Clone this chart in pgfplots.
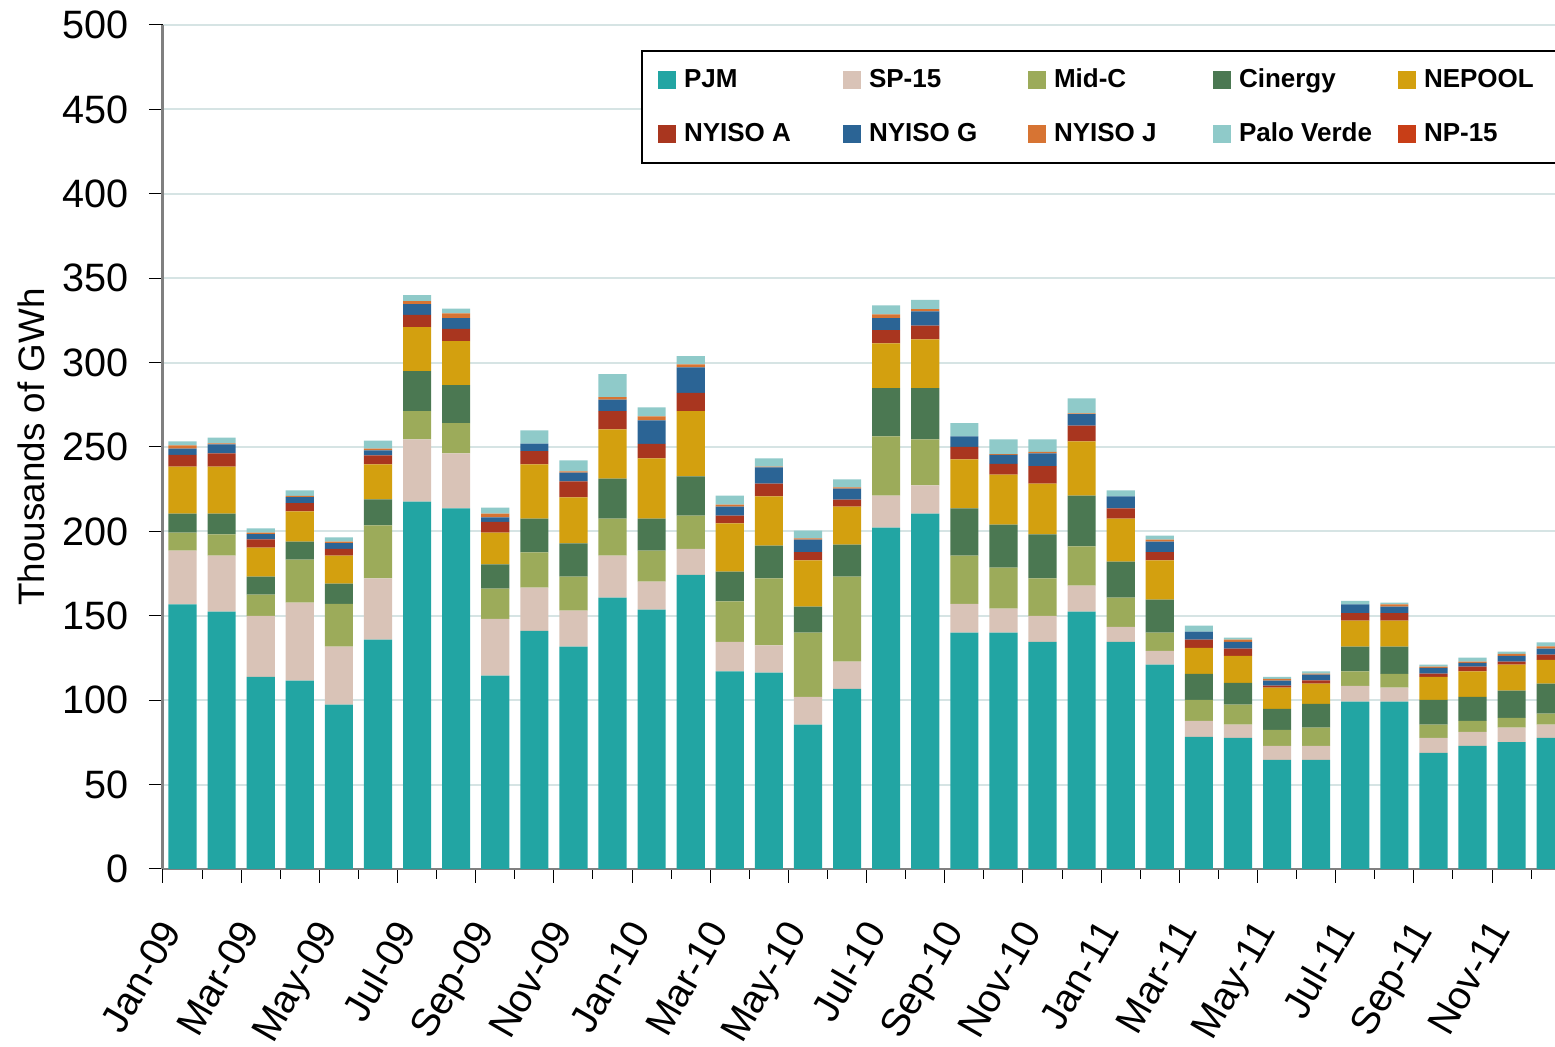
\documentclass[border=0pt]{standalone}
\usepackage{fontspec}
\setmainfont{Liberation Sans}
\usepackage{pgfplots}
\usepackage{pgfplotstable}
\pgfplotsset{compat=1.18}
\definecolor{cPJM}{RGB}{34,165,163}
\definecolor{cSP}{RGB}{217,195,183}
\definecolor{cMidC}{RGB}{156,171,90}
\definecolor{cCin}{RGB}{75,120,82}
\definecolor{cNE}{RGB}{211,160,15}
\definecolor{cNYA}{RGB}{169,54,31}
\definecolor{cNYG}{RGB}{43,100,149}
\definecolor{cNYJ}{RGB}{215,116,51}
\definecolor{cPV}{RGB}{143,202,201}
\definecolor{cNP}{RGB}{200,62,23}
\definecolor{gridc}{RGB}{214,228,228}
\pgfplotstableread{
x PJM SP MidC Cin NE NYA NYG NYJ PV NP
0 156.7 31.9 10.7 11.2 27.9 6.9 3.8 1.8 2.4 0
1 152.5 33.2 12.5 12.3 27.9 7.8 5.4 0.6 3.4 0
2 113.8 36.2 12.5 10.7 17.2 4.9 3.1 0.9 2.5 0
3 111.6 46.2 25.5 10.7 17.8 4.9 3.6 0.7 3.3 0
4 97.3 34.4 25.4 11.9 16.7 4.0 3.4 0.9 2.4 0
5 135.9 36.2 31.5 15.4 20.7 5.4 2.9 1.1 4.7 0
6 217.6 36.9 16.7 23.7 26.1 7.3 6.3 1.8 3.5 0
7 213.6 32.6 17.9 22.5 26.1 7.2 6.4 2.9 2.7 0
8 114.5 33.7 17.9 14.3 18.9 6.3 2.7 2.2 3.6 0
9 141.1 25.6 20.8 20.1 32.1 7.8 4.5 0 7.8 0
10 131.7 21.4 20.1 19.7 27.2 9.6 5.1 0.7 6.5 0
11 160.7 25.0 21.9 23.7 29.2 10.7 6.9 1.4 13.6 0
12 153.6 16.7 18.3 19.0 35.7 8.5 14.0 2.3 5.3 0
13 174.3 15.4 19.7 23.2 38.6 10.9 15.0 1.8 4.9 0
14 117.0 17.6 23.9 17.6 28.6 4.7 5.3 1.1 5.4 0
15 116.3 16.1 39.7 19.4 29.3 7.5 9.6 0.5 4.9 0
16 85.5 16.5 38.0 15.4 27.4 4.9 7.4 0.7 4.6 0
17 106.7 16.1 50.4 19.0 22.5 4.1 6.6 0.7 4.7 0
18 202.2 19.0 35.1 28.5 26.6 7.8 7.1 2.3 5.3 0
19 210.5 16.7 27.3 30.3 29.0 8.1 8.5 1.3 5.4 0
20 140.0 17.1 28.6 27.9 29.0 7.4 6.3 0 7.8 0
21 140.0 14.2 24.4 25.4 29.7 6.3 5.3 0.5 8.7 0
22 134.6 15.4 22.1 26.1 30.1 10.3 7.6 0.9 7.4 0
23 152.5 15.4 23.2 30.1 32.1 9.4 6.7 0.5 8.9 0
24 134.6 8.9 17.2 21.4 25.5 6.0 7.2 0 3.5 0
25 121.0 8.2 10.8 19.6 23.2 4.9 6.3 1.1 2.4 0
26 78.3 9.4 12.5 15.4 15.4 4.9 4.7 0 3.6 0
27 77.7 7.8 11.8 13.0 16.0 4.3 4.0 1.3 1.2 0
28 64.7 8.3 9.4 12.5 12.5 1.3 2.9 1.1 1.1 0
29 64.7 8.3 10.7 14.1 12.0 2.0 3.4 0.6 1.2 0
30 99.1 9.4 8.5 14.7 15.4 4.5 5.1 0 2.2 0
31 99.1 8.3 8.2 16.1 15.4 4.5 3.8 1.3 1.1 0
32 68.8 8.9 7.8 14.7 13.6 2.0 3.4 0.7 1.1 0
33 73.0 8.3 6.4 14.3 15.0 2.9 2.2 0.7 2.4 0
34 75.2 8.5 5.8 16.1 15.4 1.8 3.5 1.2 1.3 0
35 77.7 7.8 6.5 17.8 14.1 3.1 3.6 1.3 2.3 0
}\datatable
\begin{document}
\begin{tikzpicture}
\useasboundingbox (-81.5pt,-89pt) rectangle (696pt,434.5pt);
\begin{axis}[
  at={(0,0)}, anchor=south west,
  width=696pt, height=422pt, scale only axis,
  xmin=-0.5, xmax=35.11, ymin=0, ymax=500,
  ybar stacked, bar width=0.72,
  axis lines*=left,
  x axis line style={draw=gray, line width=1pt},
  y axis line style={draw=gray, line width=1.5pt},
  /pgf/number format/assume math mode=true,
  ytick={0,50,...,500},
  ymajorgrids, grid style={draw=gridc, line width=1pt},
  tick align=outside, major tick length=7pt, minor tick length=5pt,
  ytick style={draw=black, line width=0.5pt},
  xtick={-0.5,1.5,...,33.5},
  xticklabels={Jan-09,Mar-09,May-09,Jul-09,Sep-09,Nov-09,Jan-10,Mar-10,May-10,Jul-10,Sep-10,Nov-10,Jan-11,Mar-11,May-11,Jul-11,Sep-11,Nov-11},
  major x tick style={draw=black, line width=0.5pt},
  minor xtick={0.5,2.5,...,34.5},
  minor x tick style={draw=black, line width=0.5pt},
  yticklabel style={font=\fontsize{19.8}{22}\selectfont, inner sep=0pt, xshift=-10pt},
  xticklabel style={font=\fontsize{19.6}{22}\selectfont, inner sep=0pt, xshift=-2.2pt, yshift=-17pt, rotate=60, anchor=north east},
  ylabel={Thousands of GWh},
  ylabel style={at={(axis description cs:-0.0948,0.5)}, anchor=center, font=\fontsize{18.4}{20}\selectfont},
  legend columns=5,
  legend style={at={(axis description cs:0.3434,0.9704)}, anchor=north west, draw=black, line width=1pt,
    font=\bfseries\fontsize{13}{15}\selectfont, inner xsep=8pt, inner ysep=9pt, row sep=16pt,
    nodes={inner sep=0pt},
    /tikz/every odd column/.append style={column sep=4pt},
    /tikz/every even column/.append style={column sep=0pt}},
  legend image code/.code={\fill[#1] (0pt,-4.5pt) rectangle (9pt,4.5pt);},
]
\addplot[draw=none, fill=cPJM] table[x=x, y=PJM] {\datatable};
\addlegendentry{\makebox[79.5pt][l]{PJM}}
\addplot[draw=none, fill=cSP] table[x=x, y=SP] {\datatable};
\addlegendentry{\makebox[79.5pt][l]{SP-15}}
\addplot[draw=none, fill=cMidC] table[x=x, y=MidC] {\datatable};
\addlegendentry{\makebox[79.5pt][l]{Mid-C}}
\addplot[draw=none, fill=cCin] table[x=x, y=Cin] {\datatable};
\addlegendentry{\makebox[79.5pt][l]{Cinergy}}
\addplot[draw=none, fill=cNE] table[x=x, y=NE] {\datatable};
\addlegendentry{\makebox[79.5pt][l]{NEPOOL}}
\addplot[draw=none, fill=cNYA] table[x=x, y=NYA] {\datatable};
\addlegendentry{\makebox[79.5pt][l]{NYISO A}}
\addplot[draw=none, fill=cNYG] table[x=x, y=NYG] {\datatable};
\addlegendentry{\makebox[79.5pt][l]{NYISO G}}
\addplot[draw=none, fill=cNYJ] table[x=x, y=NYJ] {\datatable};
\addlegendentry{\makebox[79.5pt][l]{NYISO J}}
\addplot[draw=none, fill=cPV] table[x=x, y=PV] {\datatable};
\addlegendentry{\makebox[79.5pt][l]{Palo Verde}}
\addplot[draw=none, fill=cNP] table[x=x, y=NP] {\datatable};
\addlegendentry{\makebox[79.5pt][l]{NP-15}}
\end{axis}
\end{tikzpicture}
\end{document}
